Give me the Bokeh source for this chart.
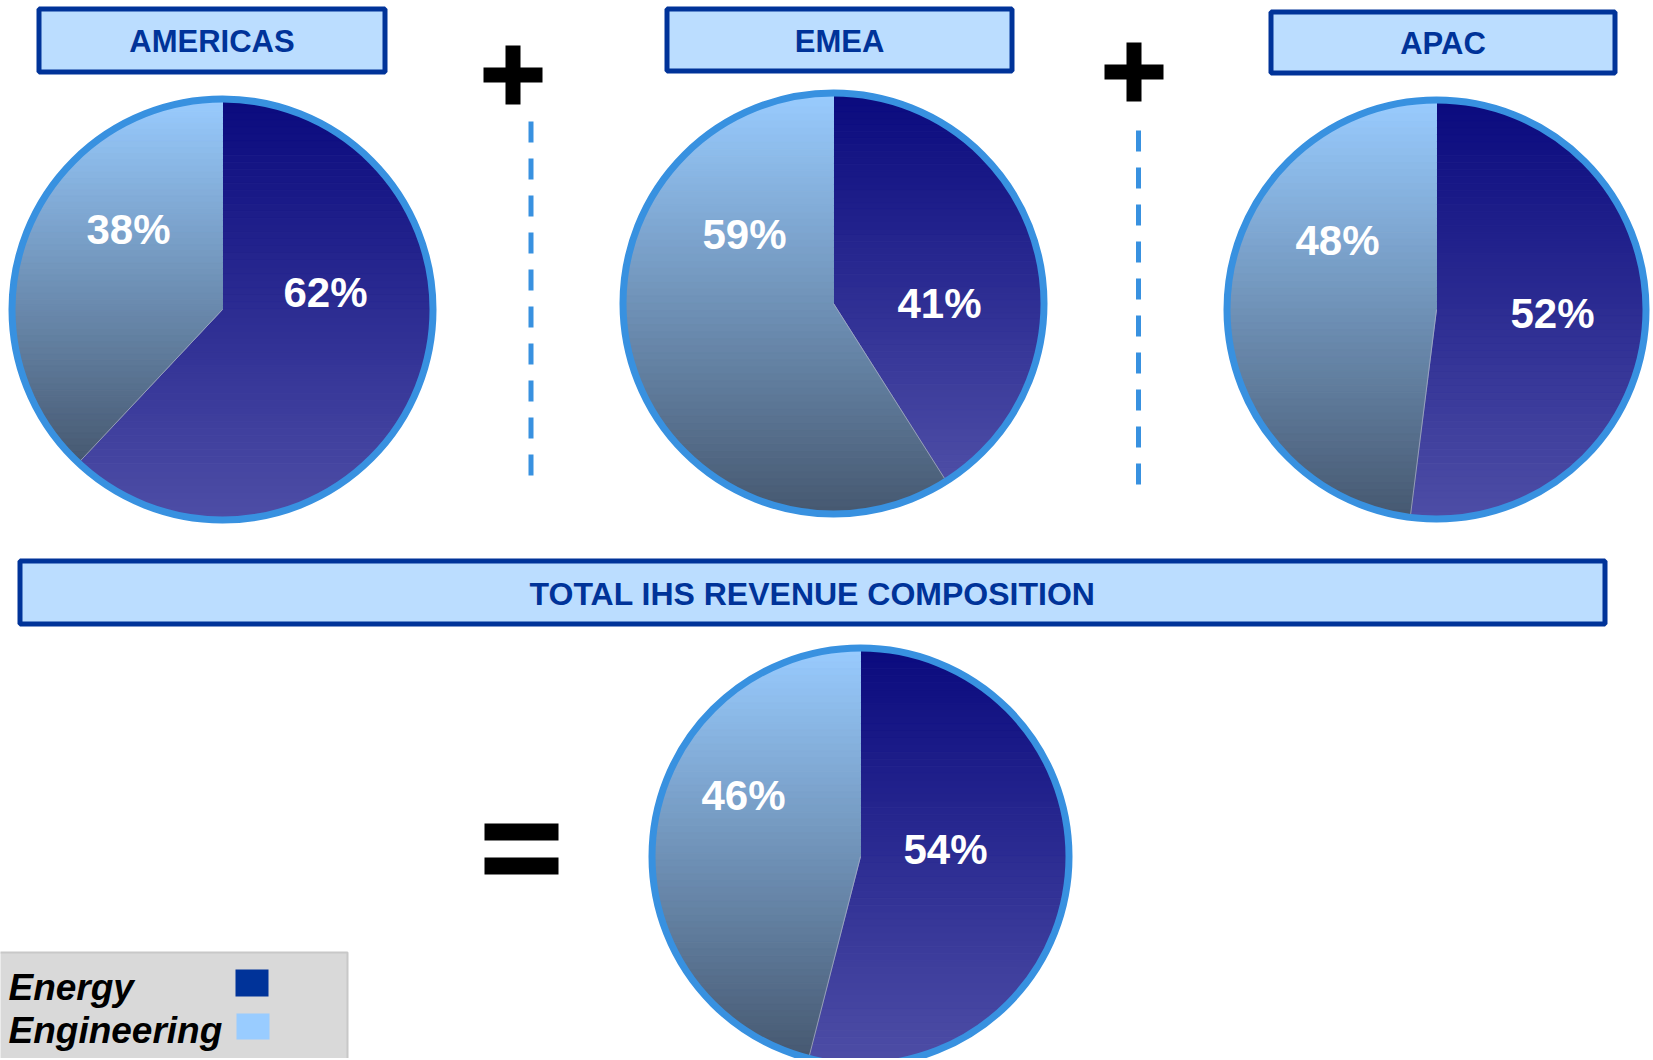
import numpy as np
from bokeh.plotting import figure
from bokeh.models import Range1d
from bokeh.embed import file_html
from bokeh.resources import INLINE
from bokeh.core.properties import value

# ---------------- data ----------------
regions = ["AMERICAS", "EMEA", "APAC"]
energy_share = [62, 41, 52]
engineering_share = [38, 59, 48]
total_title = "TOTAL IHS REVENUE COMPOSITION"
total_energy_share = 54
total_engineering_share = 46
legend_labels = ["Energy", "Engineering"]

# ---------------- layout / style ----------------
FONT = value("Liberation Sans")
DARK = "#003399"
HEADER_FILL = "#BBDDFF"
RING = "#3891E0"
ENERGY_TOP, ENERGY_BOTTOM = (10, 10, 126), (78, 78, 166)
ENG_TOP, ENG_BOTTOM = (153, 204, 255), (70, 88, 112)

W, H = 1653, 1058
pie_centers = [(222, 309), (833, 303), (1436, 309)]
pie_radii = [214, 214, 213]
total_center, total_radius = (860, 856), 212
header_boxes = [(36, 387, 6, 74), (664, 1014, 6, 73), (1268, 1617, 9, 75)]
total_box = (17, 1607, 558, 626)
energy_label_pos = [(325, 292), (939, 303), (1552, 313)]
eng_label_pos = [(128, 229), (744, 234), (1337, 240)]
total_energy_label_pos = (945, 849)
total_eng_label_pos = (743, 795)
RING_W = 7

p = figure(width=W, height=H, x_range=Range1d(0, W), y_range=Range1d(H, 0),
           output_backend="svg", toolbar_location=None, min_border=0,
           background_fill_color="white", border_fill_color="white")
p.axis.visible = False
p.grid.visible = False
p.outline_line_color = None


def hexcol(c):
    return "#%02x%02x%02x" % tuple(int(round(v)) for v in c)


def clip_y(pts, yc, keep_greater):
    out = []
    n = len(pts)
    for i in range(n):
        a, b = pts[i], pts[(i + 1) % n]
        ina = a[1] >= yc if keep_greater else a[1] <= yc
        inb = b[1] >= yc if keep_greater else b[1] <= yc
        if ina:
            out.append(a)
        if ina != inb:
            t = (yc - a[1]) / (b[1] - a[1])
            out.append((a[0] + t * (b[0] - a[0]), yc))
    return out


def slice_polygon(cx, cy, r, f0, f1):
    th = np.linspace(f0 * 2 * np.pi, f1 * 2 * np.pi, max(10, int((f1 - f0) * 600)))
    pts = [(cx, cy)] + [(cx + r * np.sin(t), cy - r * np.cos(t)) for t in th]
    return pts


def gradient_slice(cx, cy, r, f0, f1, ctop, cbot, nb=60):
    poly = slice_polygon(cx, cy, r, f0, f1)
    ys = [q[1] for q in poly]
    y0, y1 = min(ys), max(ys)
    edges = np.linspace(y0, y1, nb + 1)
    xs_l, ys_l, cols = [], [], []
    for i in range(nb):
        part = clip_y(poly, edges[i], True)
        if len(part) < 3:
            continue
        part = clip_y(part, edges[i + 1], False)
        if len(part) < 3:
            continue
        t = (i + 0.5) / nb
        col = hexcol([ctop[k] + (cbot[k] - ctop[k]) * t for k in range(3)])
        xs_l.append([q[0] for q in part])
        ys_l.append([q[1] for q in part])
        cols.append(col)
    p.patches(xs_l, ys_l, fill_color=cols, line_color=cols, line_width=1)


def draw_pie(center, radius, energy, engineering):
    cx, cy = center
    r = radius - RING_W / 2
    tot = energy + engineering
    fe = energy / tot
    gradient_slice(cx, cy, r, 0, fe, ENERGY_TOP, ENERGY_BOTTOM)
    gradient_slice(cx, cy, r, fe, 1, ENG_TOP, ENG_BOTTOM)
    th = fe * 2 * np.pi
    p.line([cx, cx + r * np.sin(th)], [cy, cy - r * np.cos(th)],
           line_color="#A8AAC8", line_width=1, line_alpha=0.8)
    p.circle(x=[cx], y=[cy], radius=radius - RING_W / 2, fill_color=None,
             line_color=RING, line_width=RING_W)


# regional pies
for i in range(3):
    draw_pie(pie_centers[i], pie_radii[i], energy_share[i], engineering_share[i])
draw_pie(total_center, total_radius, total_energy_share, total_engineering_share)

# percentage labels
lab_x = [q[0] for q in energy_label_pos] + [q[0] for q in eng_label_pos] + [total_energy_label_pos[0], total_eng_label_pos[0]]
lab_y = [q[1] for q in energy_label_pos] + [q[1] for q in eng_label_pos] + [total_energy_label_pos[1], total_eng_label_pos[1]]
lab_t = ["%d%%" % v for v in energy_share] + ["%d%%" % v for v in engineering_share] + \
        ["%d%%" % total_energy_share, "%d%%" % total_engineering_share]
p.text(x=lab_x, y=lab_y, text=lab_t, text_font=FONT, text_font_style="bold",
       text_font_size="42px", text_color="white", text_align="center", text_baseline="middle")

# header boxes
HB = 5
for (x0, x1, y0, y1) in header_boxes + [total_box]:
    p.quad(left=[x0 + HB / 2], right=[x1 - HB / 2], top=[y0 + HB / 2], bottom=[y1 - HB / 2],
           fill_color=HEADER_FILL, line_color=DARK, line_width=HB)
p.text(x=[(b[0] + b[1]) / 2 for b in header_boxes], y=[(b[2] + b[3]) / 2 + 1 for b in header_boxes],
       text=regions, text_font=FONT, text_font_style="bold", text_font_size="31px",
       text_color=DARK, text_align="center", text_baseline="middle")
p.text(x=[(total_box[0] + total_box[1]) / 2], y=[(total_box[2] + total_box[3]) / 2 + 1],
       text=[total_title], text_font=FONT, text_font_style="bold", text_font_size="32px",
       text_color=DARK, text_align="center", text_baseline="middle")

# plus signs
for (px, py) in [(512.5, 74.5), (1133.5, 71.5)]:
    p.quad(left=[px - 29.5], right=[px + 29.5], top=[py - 7.5], bottom=[py + 7.5],
           fill_color="black", line_color=None)
    p.quad(left=[px - 7.5], right=[px + 7.5], top=[py - 29.5], bottom=[py + 29.5],
           fill_color="black", line_color=None)

# dashed separators
p.line([530.5, 530.5], [121, 477], line_color=RING, line_width=5, line_dash="21 16")
p.line([1138, 1138], [130, 487], line_color=RING, line_width=5, line_dash="21 16")

# equals sign
p.quad(left=[484, 484], right=[558, 558], top=[823, 857], bottom=[840, 874],
       fill_color="black", line_color=None)

# legend
p.quad(left=[-2], right=[347], top=[952], bottom=[H + 4], fill_color="#D9D9D9",
       line_color="#C8C8C8", line_width=2)
p.text(x=[8, 8], y=[987, 1030], text=legend_labels, text_font=FONT,
       text_font_style="bold italic", text_font_size="37px", text_color="black",
       text_align="left", text_baseline="middle")
p.quad(left=[235, 236], right=[268, 269], top=[969, 1013], bottom=[996, 1039],
       fill_color=[DARK, "#99CCFF"], line_color=None)

open("out.html", "w").write(file_html(p, INLINE))
